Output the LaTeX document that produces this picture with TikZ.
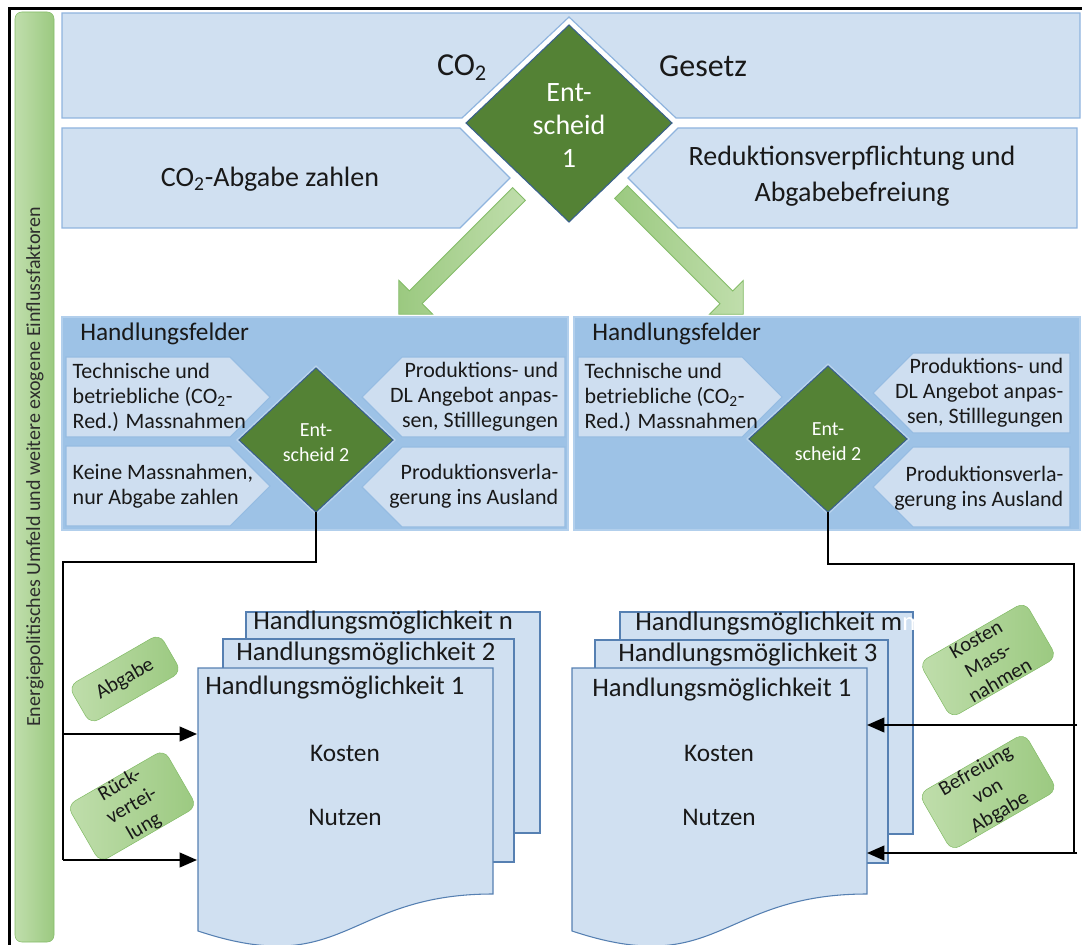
\documentclass[tikz,border=0pt]{standalone}
\usepackage{fontspec}
\setmainfont{Carlito}
\usetikzlibrary{arrows.meta,calc}
\definecolor{lb}{RGB}{208,224,241}
\definecolor{lbdraw}{RGB}{143,180,222}
\definecolor{lbs}{RGB}{206,222,240}
\definecolor{lbsdraw}{RGB}{150,188,226}
\definecolor{panel}{RGB}{157,194,230}
\definecolor{paneldraw}{RGB}{178,207,236}
\definecolor{halo}{RGB}{186,212,238}
\definecolor{dgreen}{RGB}{84,130,53}
\definecolor{dgdraw}{RGB}{58,96,140}
\definecolor{lg}{RGB}{155,201,128}
\definecolor{lg2}{RGB}{192,222,172}
\definecolor{lgdraw}{RGB}{132,188,104}
\definecolor{docdraw}{RGB}{86,128,178}
\definecolor{txt}{RGB}{25,25,25}
\definecolor{bartxt}{RGB}{45,45,45}
\newcommand{\fsz}[2]{\fontsize{#1}{#2}\selectfont}
\newdimen\pxu \pxu=0.75pt
\tikzset{
  lbshape/.style={fill=lb, draw=lbdraw, line width=0.9pt},
  smallch/.style={fill=lbs, draw=lbsdraw, line width=0.8pt},
  panelbox/.style={fill=panel, draw=paneldraw, line width=0.8pt},
  dia/.style={fill=dgreen, draw=dgdraw, line width=0.8pt},
  docbox/.style={fill=lb, draw=docdraw, line width=0.8pt},
  garrow/.style={left color=lg, right color=lg2, draw=lgdraw, line width=0.6pt},
  conn/.style={line width=1.5pt, draw=black},
  arr/.style={conn, -{Triangle[length=13pt,width=11pt]}},
  glabel/.style={draw=lgdraw, left color=lg2, right color=lg, rounded corners=7pt,
     rotate=30, align=center, text=txt, inner sep=0pt, font=\fsz{15.5}{18}},
  bigtxt/.style={text=txt, font=\fsz{21}{27}, align=center},
  smalltxt/.style={text=txt, font=\fsz{16.5}{18.75}},
  ditxt/.style={text=white, font=\fsz{15}{18.75}, align=center},
  hmtxt/.style={text=txt, font=\fsz{20}{22}, anchor=west, inner sep=0pt},
  kntxt/.style={text=txt, font=\fsz{19}{22}},
}
\begin{document}
\begin{tikzpicture}[x=0.75pt,y=-0.75pt]
\useasboundingbox (0,0) rectangle (1082,945);

% frame
\coordinate (frBL) at (9.5,945);
\coordinate (frTL) at (9.5,8.5);
\coordinate (frTR) at (1082,8.5);
\draw[line width=1.9pt] (frBL) -- (frTL) -- (frTR);

% green side bar
\shade[left color=lg2, right color=lg, draw=lgdraw, rounded corners=5pt] (15,12) rectangle (54,942);
\node[rotate=90, font=\fsz{15}{18}, text=bartxt] (bartext) at (35,467)
  {Energiepolitisches Umfeld und weitere exogene Einflussfaktoren};

% top band with notch
\path[lbshape] (62,13) -- (1080,13) -- (1080,118) -- (676,118) -- (569,17) -- (462,118) -- (62,118) -- cycle;
\node[text=txt, font=\fsz{24}{28}] (co2) at (462,68) {CO\textsubscript{2}};
\node[text=txt, font=\fsz{24}{28}] (gesetz) at (703,66) {Gesetz};

% second row
\path[lbshape] (62,128) -- (460,128) -- (510,178) -- (460,228) -- (62,228) -- cycle;
\path[lbshape] (1077,128) -- (678,128) -- (628,178) -- (678,228) -- (1077,228) -- cycle;
\node[bigtxt] (abgabe) at (270,179) {CO\textsubscript{2}-Abgabe zahlen};
\node[bigtxt] (reduktion) at (852,176) {Reduktionsverpflichtung und\\Abgabebefreiung};

% decision 1
\path[draw=white, line width=3pt] (569,25) -- (672,123) -- (569,222) -- (466,123) -- cycle;
\path[dia] (569,25) -- (672,123) -- (569,222) -- (466,123) -- cycle;
\node[text=white, font=\fsz{21}{24.75}, align=center] (e1) at (569,126) {Ent-\\scheid\\1};

% big green arrows
\begin{scope}[shift={(519,194)}, rotate=225]
  \path[garrow] (0,-9) -- (146,-9) -- (146,-24) -- (170,0) -- (146,24) -- (146,9) -- (0,9) -- cycle;
\end{scope}
\begin{scope}[shift={(621,192)}, rotate=-45]
  \path[garrow] (0,-9) -- (149,-9) -- (149,-24) -- (173,0) -- (149,24) -- (149,9) -- (0,9) -- cycle;
\end{scope}

% panels
\path[panelbox] (62,317) rectangle (568,530);
\path[panelbox] (574,317) rectangle (1080,530);
\node[text=txt, font=\fsz{19}{22}, anchor=west, inner sep=0pt] (hfL) at (80,334) {Handlungsfelder};
\node[text=txt, font=\fsz{19}{22}, anchor=west, inner sep=0pt] (hfR) at (592,334) {Handlungsfelder};

% left panel chevrons
\path[smallch] (66,357) -- (230,357) -- (270,397) -- (230,437) -- (66,437) -- cycle;
\path[smallch] (66,446) -- (230,446) -- (270,486) -- (230,526) -- (66,526) -- cycle;
\path[smallch] (565,357) -- (402,357) -- (362,397) -- (402,437) -- (565,437) -- cycle;
\path[smallch] (565,447) -- (402,447) -- (362,487) -- (402,527) -- (565,527) -- cycle;
\node[smalltxt, anchor=west, align=left] (lTL) at (68,397) {Technische und\\betriebliche (CO\textsubscript{2}-\\Red.) Massnahmen};
\node[smalltxt, anchor=west, align=left] (lBL) at (68,486) {Keine Massnahmen,\\nur Abgabe zahlen};
\node[smalltxt, anchor=east, align=right] (lTR) at (563,397) {Produktions- und\\DL Angebot anpas-\\sen, Stilllegungen};
\node[smalltxt, anchor=east, align=right] (lBR) at (563,486) {Produktionsverla-\\gerung ins Ausland};

% right panel chevrons
\path[smallch] (578,357) -- (742,357) -- (782,397) -- (742,437) -- (578,437) -- cycle;
\path[smallch] (1070,353) -- (913,353) -- (873,393) -- (913,433) -- (1070,433) -- cycle;
\path[smallch] (1070,447) -- (913,447) -- (873,487) -- (913,527) -- (1070,527) -- cycle;
\node[smalltxt, anchor=west, align=left] (rTL) at (580,397) {Technische und\\betriebliche (CO\textsubscript{2}-\\Red.) Massnahmen};
\node[smalltxt, anchor=east, align=right] (rTR) at (1068,393) {Produktions- und\\DL Angebot anpas-\\sen, Stilllegungen};
\node[smalltxt, anchor=east, align=right] (rBR) at (1068,488) {Produktionsverla-\\gerung ins Ausland};

% decision 2 diamonds
\path[draw=halo, line width=3pt] (316,368) -- (393,440) -- (316,512) -- (239,440) -- cycle;
\path[dia] (316,368) -- (393,440) -- (316,512) -- (239,440) -- cycle;
\node[ditxt] (e2L) at (316,443) {Ent-\\scheid 2};
\path[draw=halo, line width=3pt] (828,366) -- (907,439) -- (828,512) -- (749,439) -- cycle;
\path[dia] (828,366) -- (907,439) -- (828,512) -- (749,439) -- cycle;
\node[ditxt] (e2R) at (828,442) {Ent-\\scheid 2};

% left document stack
\path[docbox] (246,612) rectangle (540,833);
\path[docbox] (223,639) rectangle (514,862);
\path[docbox] (198,668) -- (493,668) -- (493,894) .. controls (345.5,894) and (345.5,980) .. (198,931) -- cycle;
\node[hmtxt] (hLn) at (253,623) {Handlungsmöglichkeit n};
\node[hmtxt] (hL2) at (236,654) {Handlungsmöglichkeit 2};
\node[hmtxt] (hL1) at (205,688) {Handlungsmöglichkeit 1};
\node[kntxt] (kL) at (345,753) {Kosten};
\node[kntxt] (nL) at (345,817) {Nutzen};

% right document stack
\path[docbox] (620,612) rectangle (913,834);
\path[docbox] (595,640) rectangle (888,863);
\path[docbox] (572,668) -- (867,668) -- (867,894) .. controls (719.5,894) and (719.5,980) .. (572,931) -- cycle;
\node[hmtxt] (hRm) at (635,624) {Handlungsmöglichkeit m\textcolor{white}{m}};
\node[hmtxt] (hR3) at (618,655) {Handlungsmöglichkeit 3};
\node[hmtxt] (hR1) at (592,690) {Handlungsmöglichkeit 1};
\node[kntxt] (kR) at (719,753) {Kosten};
\node[kntxt] (nR) at (719,817) {Nutzen};

% green labels
\node[glabel, minimum width=105\pxu, minimum height=44\pxu] (gAbgabe) at (125,679) {Abgabe};
\node[glabel, minimum width=112\pxu, minimum height=62\pxu] (gRueck) at (132,806) {Rück-\\vertei-\\lung};
\node[glabel, minimum width=122\pxu, minimum height=64\pxu] (gKosten) at (988,660) {Kosten\\Mass-\\nahmen};
\node[glabel, minimum width=122\pxu, minimum height=64\pxu] (gBefr) at (988,792) {Befreiung\\von\\Abgabe};

% connectors
\coordinate (d2Lbot) at (316,512);
\coordinate (jL1) at (316,562);
\coordinate (jL2) at (63,562);
\coordinate (jL3) at (63,860);
\coordinate (jLa) at (63,734);
\coordinate (inL1) at (197,734);
\coordinate (inL2) at (197,860);
\draw[conn] (d2Lbot) -- (jL1) -- (jL2) -- (jL3);
\draw[arr] (jLa) -- (inL1);
\draw[arr] (jL3) -- (inL2);

\coordinate (d2Rbot) at (828,512);
\coordinate (jR1) at (828,564);
\coordinate (jR2) at (1074,564);
\coordinate (jR3) at (1074,853);
\coordinate (jRa) at (1077,725);
\coordinate (jRb) at (1077,853);
\coordinate (inR1) at (867,725);
\coordinate (inR2) at (867,853);
\draw[conn] (d2Rbot) -- (jR1) -- (jR2) -- (jR3);
\draw[arr] (jRa) -- (inR1);
\draw[arr] (jRb) -- (inR2);
\end{tikzpicture}
\end{document}
